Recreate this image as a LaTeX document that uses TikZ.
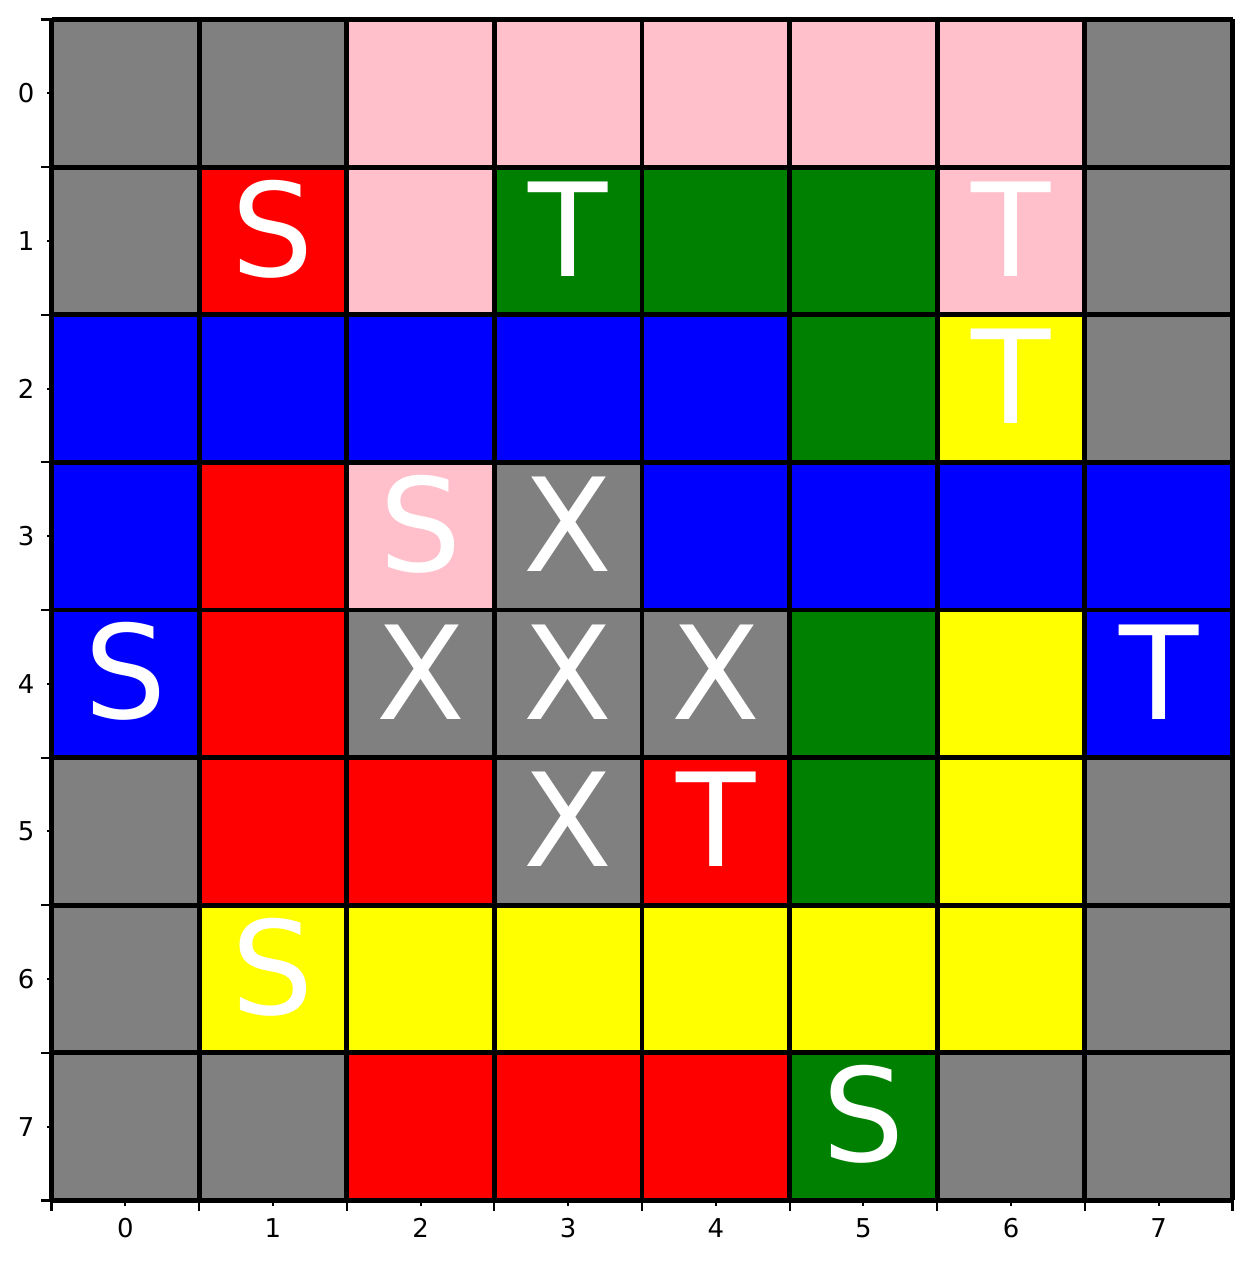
\documentclass[tikz,border=0pt]{standalone}
\usepackage{fontspec}
\setmainfont{DejaVu Sans}
\usepackage{xcolor}
\usepackage{tikz}
\definecolor{cgray}{HTML}{808080}
\definecolor{cpink}{HTML}{FFC0CB}
\definecolor{cgreen}{HTML}{008000}
\definecolor{cblue}{HTML}{0000FF}
\definecolor{cyellow}{HTML}{FFFF00}
\definecolor{cred}{HTML}{FF0000}

\begin{document}
\begin{tikzpicture}[
    x=2cm,y=2cm,
    every node/.style={font=\fontsize{10}{12}\selectfont},
    cell/.style={minimum size=2cm,inner sep=0pt,outer sep=0pt},
    tag/.style={text=white,inner sep=0pt,yshift=0.163cm,
                font=\fontsize{50}{60}\selectfont},
    gridline/.style={line width=1.9pt},
    tickline/.style={line width=0.8pt},
    ylab/.style={anchor=east,inner sep=0pt},
    xlab/.style={anchor=north,inner sep=0pt},
  ]
  \useasboundingbox (-0.849,0.632) rectangle (7.632,-7.91);

  \node[cell,fill=cgray]   (c00) at (0,0) {};
  \node[cell,fill=cgray]   (c01) at (1,0) {};
  \node[cell,fill=cpink]   (c02) at (2,0) {};
  \node[cell,fill=cpink]   (c03) at (3,0) {};
  \node[cell,fill=cpink]   (c04) at (4,0) {};
  \node[cell,fill=cpink]   (c05) at (5,0) {};
  \node[cell,fill=cpink]   (c06) at (6,0) {};
  \node[cell,fill=cgray]   (c07) at (7,0) {};

  \node[cell,fill=cgray]   (c10) at (0,-1) {};
  \node[cell,fill=cred]    (c11) at (1,-1) {};
  \node[cell,fill=cpink]   (c12) at (2,-1) {};
  \node[cell,fill=cgreen]  (c13) at (3,-1) {};
  \node[cell,fill=cgreen]  (c14) at (4,-1) {};
  \node[cell,fill=cgreen]  (c15) at (5,-1) {};
  \node[cell,fill=cpink]   (c16) at (6,-1) {};
  \node[cell,fill=cgray]   (c17) at (7,-1) {};

  \node[cell,fill=cblue]   (c20) at (0,-2) {};
  \node[cell,fill=cblue]   (c21) at (1,-2) {};
  \node[cell,fill=cblue]   (c22) at (2,-2) {};
  \node[cell,fill=cblue]   (c23) at (3,-2) {};
  \node[cell,fill=cblue]   (c24) at (4,-2) {};
  \node[cell,fill=cgreen]  (c25) at (5,-2) {};
  \node[cell,fill=cyellow] (c26) at (6,-2) {};
  \node[cell,fill=cgray]   (c27) at (7,-2) {};

  \node[cell,fill=cblue]   (c30) at (0,-3) {};
  \node[cell,fill=cred]    (c31) at (1,-3) {};
  \node[cell,fill=cpink]   (c32) at (2,-3) {};
  \node[cell,fill=cgray]   (c33) at (3,-3) {};
  \node[cell,fill=cblue]   (c34) at (4,-3) {};
  \node[cell,fill=cblue]   (c35) at (5,-3) {};
  \node[cell,fill=cblue]   (c36) at (6,-3) {};
  \node[cell,fill=cblue]   (c37) at (7,-3) {};

  \node[cell,fill=cblue]   (c40) at (0,-4) {};
  \node[cell,fill=cred]    (c41) at (1,-4) {};
  \node[cell,fill=cgray]   (c42) at (2,-4) {};
  \node[cell,fill=cgray]   (c43) at (3,-4) {};
  \node[cell,fill=cgray]   (c44) at (4,-4) {};
  \node[cell,fill=cgreen]  (c45) at (5,-4) {};
  \node[cell,fill=cyellow] (c46) at (6,-4) {};
  \node[cell,fill=cblue]   (c47) at (7,-4) {};

  \node[cell,fill=cgray]   (c50) at (0,-5) {};
  \node[cell,fill=cred]    (c51) at (1,-5) {};
  \node[cell,fill=cred]    (c52) at (2,-5) {};
  \node[cell,fill=cgray]   (c53) at (3,-5) {};
  \node[cell,fill=cred]    (c54) at (4,-5) {};
  \node[cell,fill=cgreen]  (c55) at (5,-5) {};
  \node[cell,fill=cyellow] (c56) at (6,-5) {};
  \node[cell,fill=cgray]   (c57) at (7,-5) {};

  \node[cell,fill=cgray]   (c60) at (0,-6) {};
  \node[cell,fill=cyellow] (c61) at (1,-6) {};
  \node[cell,fill=cyellow] (c62) at (2,-6) {};
  \node[cell,fill=cyellow] (c63) at (3,-6) {};
  \node[cell,fill=cyellow] (c64) at (4,-6) {};
  \node[cell,fill=cyellow] (c65) at (5,-6) {};
  \node[cell,fill=cyellow] (c66) at (6,-6) {};
  \node[cell,fill=cgray]   (c67) at (7,-6) {};

  \node[cell,fill=cgray]   (c70) at (0,-7) {};
  \node[cell,fill=cgray]   (c71) at (1,-7) {};
  \node[cell,fill=cred]    (c72) at (2,-7) {};
  \node[cell,fill=cred]    (c73) at (3,-7) {};
  \node[cell,fill=cred]    (c74) at (4,-7) {};
  \node[cell,fill=cgreen]  (c75) at (5,-7) {};
  \node[cell,fill=cgray]   (c76) at (6,-7) {};
  \node[cell,fill=cgray]   (c77) at (7,-7) {};

  \foreach \i in {0,...,8} {
    \draw[gridline] (\i-0.5,0.5) -- (\i-0.5,-7.5);
    \draw[gridline] (-0.5,0.5-\i) -- (7.5,0.5-\i);
  }

  \node[tag] (sred)    at (c11) {S};
  \node[tag] (tgreen)  at (c13) {T};
  \node[tag] (tpink)   at (c16) {T};
  \node[tag] (tyellow) at (c26) {T};
  \node[tag] (spink)   at (c32) {S};
  \node[tag] (x33)     at (c33) {X};
  \node[tag] (sblue)   at (c40) {S};
  \node[tag] (x42)     at (c42) {X};
  \node[tag] (x43)     at (c43) {X};
  \node[tag] (x44)     at (c44) {X};
  \node[tag] (tblue)   at (c47) {T};
  \node[tag] (x53)     at (c53) {X};
  \node[tag] (tred)    at (c54) {T};
  \node[tag] (syellow) at (c61) {S};
  \node[tag] (sgreen)  at (c75) {S};

  \foreach \i in {0,...,7} {
    \draw[tickline] (-0.5,-\i) -- ++(-0.034,0);
    \draw[tickline] (\i,-7.5) -- ++(0,-0.034);
    \node[ylab] (yl\i) at (-0.612,-\i) {\i};
    \node[xlab] (xl\i) at (\i,-7.619) {\i};
  }
  \foreach \i in {0,...,8} {
    \draw[tickline] (-0.5,0.5-\i) -- ++(-0.068,0);
    \draw[tickline] (\i-0.5,-7.5) -- ++(0,-0.068);
  }
\end{tikzpicture}
\end{document}
